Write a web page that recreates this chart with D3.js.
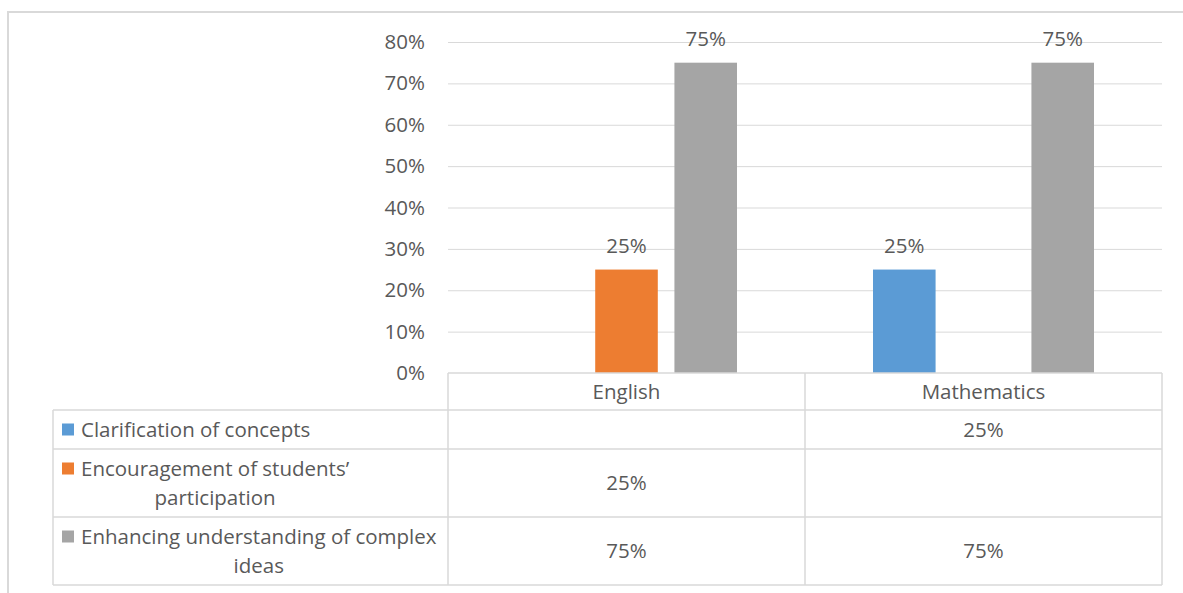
<!DOCTYPE html>
<html>
<head>
<meta charset="utf-8">
<script src="https://cdn.jsdelivr.net/npm/d3@7"></script>
<style>
  body { margin: 0; background: #fff; }
  svg text { font-family: "Open Sans", "Liberation Sans", sans-serif; fill: #595959; }
</style>
</head>
<body>
<script>
// chart data
var categories = ["English", "Mathematics"];
var seriesNames = ["Clarification of concepts", "Encouragement of students\u2019 participation", "Enhancing understanding of complex ideas"];
var seriesLines = [["Clarification of concepts"], ["Encouragement of students\u2019", "participation"], ["Enhancing understanding of complex", "ideas"]];
var seriesColors = ["#5b9bd5", "#ed7d31", "#a5a5a5"];
var clarification = [null, 25];
var encouragement = [25, null];
var enhancing = [75, 75];
var yTicks = [0, 10, 20, 30, 40, 50, 60, 70, 80];

var seriesValues = [clarification, encouragement, enhancing];

var W = 1183, H = 593;
var plotL = 448, plotR = 1162, plotT = 42, plotB = 373;
var rowEdges = [373, 410, 449, 517, 585];
var tableL = 53;
var fs = "20.5px";

var svg = d3.select("body").append("svg").attr("width", W).attr("height", H);

// outer frame
svg.append("rect").attr("x", 8).attr("y", 12).attr("width", W + 20).attr("height", H + 20)
  .style("fill", "none").style("stroke", "#d9d9d9").style("stroke-width", 2);

var y = d3.scaleLinear().domain([0, 80]).range([plotB, plotT]);
var x0 = d3.scaleBand().domain(categories).range([plotL, plotR]).paddingInner(0).paddingOuter(0);
var x1 = d3.scaleBand().domain(d3.range(seriesNames.length))
  .range([68, x0.bandwidth() - 68]).paddingInner(0.21).paddingOuter(0);

// gridlines
svg.append("g").selectAll("line").data(yTicks.filter(function(d) { return d > 0; })).enter()
  .append("line")
  .attr("x1", plotL).attr("x2", plotR)
  .attr("y1", function(d) { return y(d) + 0.5; }).attr("y2", function(d) { return y(d) + 0.5; })
  .style("stroke", "#d9d9d9").style("stroke-width", 1);

// y axis labels
var yAxis = d3.axisLeft(y).tickValues(yTicks).tickSize(0).tickPadding(23)
  .tickFormat(function(d) { return d + "%"; });
var gy = svg.append("g").attr("transform", "translate(" + plotL + ",0)").call(yAxis);
gy.select(".domain").remove();
gy.selectAll("text").style("font-size", fs).style("fill", "#595959").style("font-family", "'Open Sans', sans-serif");

// bars
seriesValues.forEach(function(vals, si) {
  categories.forEach(function(cat, ci) {
    var v = vals[ci];
    if (v == null) return;
    var bx = x0(cat) + x1(si);
    svg.append("rect")
      .attr("x", bx).attr("y", y(v))
      .attr("width", x1.bandwidth()).attr("height", plotB - y(v))
      .style("fill", seriesColors[si]);
    svg.append("text")
      .attr("x", bx + x1.bandwidth() / 2).attr("y", y(v) - 17)
      .attr("text-anchor", "middle").style("font-size", fs)
      .text(v + "%");
  });
});

// data table
var tbl = svg.append("g");
var lineStyle = function(sel) { sel.style("stroke", "#d9d9d9").style("stroke-width", 1.5); };

// horizontal lines
rowEdges.forEach(function(ry, i) {
  tbl.append("line").attr("x1", i === 0 ? plotL : tableL).attr("x2", plotR)
    .attr("y1", ry).attr("y2", ry).call(lineStyle);
});
// vertical lines
tbl.append("line").attr("x1", tableL).attr("x2", tableL).attr("y1", rowEdges[1]).attr("y2", rowEdges[4]).call(lineStyle);
categories.forEach(function(cat) {
  tbl.append("line").attr("x1", x0(cat)).attr("x2", x0(cat)).attr("y1", rowEdges[0]).attr("y2", rowEdges[4]).call(lineStyle);
});
tbl.append("line").attr("x1", plotR).attr("x2", plotR).attr("y1", rowEdges[0]).attr("y2", rowEdges[4]).call(lineStyle);

// header
categories.forEach(function(cat) {
  tbl.append("text").attr("x", x0(cat) + x0.bandwidth() / 2).attr("y", (rowEdges[0] + rowEdges[1]) / 2)
    .attr("dy", "0.35em").attr("text-anchor", "middle").style("font-size", fs).text(cat);
});

// rows
seriesNames.forEach(function(name, si) {
  var top = rowEdges[si + 1], bot = rowEdges[si + 2];
  var mid = (top + bot) / 2;
  var lines = seriesLines[si];
  var lh = 29;
  var firstY = mid - (lines.length - 1) * lh / 2;
  tbl.append("rect").attr("x", 62).attr("y", firstY - 6).attr("width", 12).attr("height", 12)
    .style("fill", seriesColors[si]);
  var t = tbl.append("text").style("font-size", fs);
  t.append("tspan").attr("x", 81).attr("y", firstY).attr("dy", "0.35em").text(lines[0]);
  if (lines.length > 1) {
    // wrapped line is centred under the first line
    var tw = t.node().getComputedTextLength();
    t.append("tspan").attr("x", 81 + tw / 2).attr("y", firstY + lh).attr("dy", "0.35em")
      .attr("text-anchor", "middle").text(lines[1]);
  }
  categories.forEach(function(cat, ci) {
    var v = seriesValues[si][ci];
    if (v == null) return;
    tbl.append("text").attr("x", x0(cat) + x0.bandwidth() / 2).attr("y", mid)
      .attr("dy", "0.35em").attr("text-anchor", "middle").style("font-size", fs).text(v + "%");
  });
});
</script>
</body>
</html>
